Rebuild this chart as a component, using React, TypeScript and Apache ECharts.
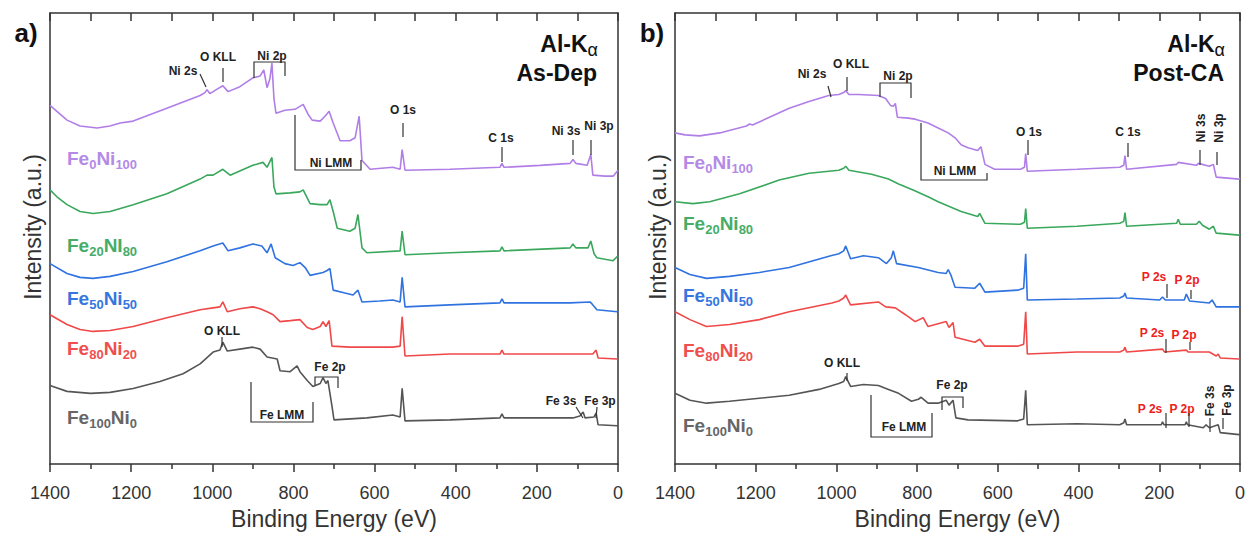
import React, { useEffect, useRef } from "react";
import * as echarts from "echarts";

type Pt = [number, number];

// Binding energy axis
const energyMin = 0;
const energyMax = 1400;
const intensityMax = 459;

// ---------- Panel a) As-Dep ----------
const asDepFe0Ni100: Pt[] = [[1400,365],[1383,359],[1358,350],[1326,344],[1284,342],[1252,344],[1227,347],[1195,349],[1112,362],[1030,375],[1018,378],[1013,381],[1006,377],[986,382],[974,385],[961,379],[932,384],[900,393],[882,395],[873,401],[865,383],[858,392],[853,408],[848,372],[843,357],[821,360],[796,361],[776,366],[764,356],[754,350],[734,349],[720,355],[712,359],[702,347],[685,329],[661,329],[648,332],[638,354],[631,309],[611,300],[555,302],[537,300],[532,320],[525,299],[414,300],[291,302],[286,306],[281,302],[192,304],[118,306],[111,310],[104,306],[76,304],[67,315],[62,294],[32,293],[12,293],[0,299]];
const asDepFe20Ni80: Pt[] = [[1400,279],[1383,272],[1358,264],[1326,257],[1294,255],[1252,257],[1195,264],[1112,275],[1030,290],[1013,294],[998,294],[974,300],[956,294],[900,304],[875,307],[865,302],[853,312],[848,282],[843,275],[808,276],[784,277],[776,279],[759,265],[734,264],[717,264],[710,269],[702,257],[692,240],[661,237],[648,240],[641,254],[631,220],[619,215],[537,217],[532,237],[525,213],[414,215],[291,217],[286,221],[281,217],[118,220],[111,224],[104,220],[74,220],[67,227],[59,214],[52,210],[12,207],[0,212]];
const asDepFe50Ni50: Pt[] = [[1400,204],[1358,194],[1326,190],[1294,189],[1252,191],[1195,196],[1112,206],[1030,217],[998,222],[974,225],[961,217],[932,220],[900,224],[878,222],[865,215],[855,224],[845,210],[821,204],[801,202],[784,205],[771,200],[759,192],[727,195],[717,197],[710,199],[702,177],[673,174],[653,172],[641,177],[631,165],[587,166],[555,167],[537,165],[532,190],[525,160],[414,162],[291,164],[286,168],[281,164],[118,164],[69,165],[64,163],[52,157],[2,155],[0,156]];
const asDepFe80Ni20: Pt[] = [[1400,152],[1358,142],[1326,137],[1294,135],[1252,136],[1195,140],[1112,149],[1030,157],[998,159],[981,160],[974,165],[963,155],[932,158],[900,160],[882,158],[865,155],[850,152],[833,145],[808,146],[784,147],[766,139],[752,137],[734,140],[727,145],[720,140],[712,146],[705,120],[661,119],[555,119],[537,120],[532,150],[525,110],[414,112],[291,112],[286,116],[281,112],[62,112],[54,116],[49,108],[2,107],[0,107]];
const asDepFe100Ni0: Pt[] = [[1400,80],[1358,74],[1300,72],[1252,73],[1195,77],[1129,84],[1072,92],[1030,102],[998,114],[981,116],[974,124],[963,115],[932,117],[900,119],[882,117],[865,109],[840,107],[833,95],[808,94],[791,100],[784,94],[766,85],[752,79],[734,82],[727,88],[720,82],[715,85],[705,59],[700,45],[619,47],[555,50],[537,48],[532,77],[525,44],[414,45],[291,47],[286,51],[281,47],[111,47],[94,49],[86,53],[81,47],[59,48],[54,52],[49,40],[2,39],[0,39]];

// ---------- Panel b) Post-CA ----------
const postFe0Ni100: Pt[] = [[1400,337],[1375,335],[1339,334],[1289,337],[1223,344],[1215,346],[1208,345],[1117,362],[1068,369],[1019,375],[994,376],[982,378],[977,380],[969,376],[945,376],[896,375],[878,372],[866,365],[859,364],[854,367],[849,353],[822,352],[805,351],[773,347],[748,342],[723,337],[706,332],[691,325],[674,322],[650,319],[642,323],[632,305],[608,300],[544,300],[534,302],[531,316],[527,298],[404,300],[298,302],[288,304],[285,314],[281,300],[157,305],[153,307],[108,304],[103,306],[76,303],[66,305],[59,292],[2,290],[0,291]];
const postFe20Ni80: Pt[] = [[1400,267],[1356,265],[1314,267],[1240,275],[1142,289],[1068,296],[994,299],[982,301],[977,303],[969,299],[913,295],[871,290],[846,285],[810,279],[773,272],[748,267],[691,257],[650,252],[645,255],[632,245],[544,244],[534,246],[531,260],[527,240],[404,242],[298,245],[288,247],[285,256],[281,242],[157,245],[153,249],[148,244],[108,244],[101,247],[93,243],[76,239],[66,242],[59,235],[2,233],[0,234]];
const postFe50Ni50: Pt[] = [[1400,200],[1363,193],[1322,189],[1265,191],[1191,195],[1117,200],[1014,212],[994,214],[982,217],[977,222],[965,209],[933,212],[896,210],[876,204],[864,210],[859,217],[851,204],[797,200],[748,195],[728,194],[723,198],[716,192],[706,180],[657,179],[645,184],[632,175],[551,177],[536,179],[531,214],[527,167],[404,168],[298,169],[288,171],[285,174],[281,169],[199,167],[192,170],[185,167],[138,167],[133,173],[125,166],[76,164],[69,167],[59,160],[2,160],[0,161]];
const postFe80Ni20: Pt[] = [[1400,155],[1363,147],[1322,140],[1265,142],[1191,147],[1117,155],[1011,164],[994,166],[982,169],[977,172],[965,162],[896,165],[878,160],[854,159],[829,152],[805,145],[785,149],[773,140],[728,145],[721,139],[711,144],[706,129],[657,124],[645,127],[632,120],[551,120],[536,122],[531,155],[527,112],[404,114],[298,114],[288,116],[285,119],[281,114],[192,117],[187,114],[133,116],[128,114],[76,114],[59,110],[54,112],[49,108],[2,107],[0,107]];
const postFe100Ni0: Pt[] = [[1400,72],[1363,65],[1322,62],[1265,64],[1191,67],[1117,70],[1043,76],[994,82],[982,84],[977,89],[965,79],[933,81],[896,80],[871,76],[846,72],[814,64],[797,66],[790,68],[773,62],[748,62],[728,65],[721,60],[711,65],[704,47],[674,45],[551,44],[536,46],[531,75],[527,40],[404,41],[298,40],[288,42],[285,46],[281,40],[195,40],[192,43],[188,40],[136,40],[133,43],[130,40],[91,37],[84,40],[76,37],[54,40],[49,32],[2,30],[0,31]];

const seriesColors = ["#b07ee6", "#3aa85c", "#2f72e0", "#f04848", "#555555"];
const labelColors = ["#b48ae6", "#45ad68", "#3576e0", "#ef4f4f", "#666666"];

const panelA = [asDepFe0Ni100, asDepFe20Ni80, asDepFe50Ni50, asDepFe80Ni20, asDepFe100Ni0];
const panelB = [postFe0Ni100, postFe20Ni80, postFe50Ni50, postFe80Ni20, postFe100Ni0];

// sample labels: [Fe subscript, Ni symbol, Ni subscript]
const labelsA: [string, string, string][] = [["0", "Ni", "100"], ["20", "NI", "80"], ["50", "Ni", "50"], ["80", "Ni", "20"], ["100", "Ni", "0"]];
const labelsB: [string, string, string][] = [["0", "Ni", "100"], ["20", "Ni", "80"], ["50", "Ni", "50"], ["80", "Ni", "20"], ["100", "Ni", "0"]];

const FONT = "'Liberation Sans', Arial, Helvetica, sans-serif";

function buildGraphics() {
  const g: any[] = [];
  const ink = "#333";
  const txt = (x: number, y: number, text: string, opt: any = {}) =>
    g.push({
      type: "text",
      x,
      y,
      rotation: opt.rot || 0,
      z: 100,
      style: {
        text,
        fill: opt.color || "#222",
        fontFamily: FONT,
        fontSize: opt.size || 12,
        fontWeight: opt.weight || "bold",
        align: opt.align || "center",
        verticalAlign: "middle",
        rich: opt.rich,
      },
    });
  const ln = (x1: number, y1: number, x2: number, y2: number) =>
    g.push({ type: "line", z: 100, shape: { x1, y1, x2, y2 }, style: { stroke: ink, lineWidth: 1.2 } });
  const pl = (pts: number[][]) =>
    g.push({ type: "polyline", z: 100, shape: { points: pts }, style: { stroke: ink, lineWidth: 1.2, fill: null } });

  // panel tags
  txt(26, 33, "a)", { size: 26, color: "#111" });
  txt(652, 33, "b)", { size: 26, color: "#111" });

  const richK = {
    m: { fontFamily: FONT, fontSize: 23, fontWeight: "bold", fill: "#111", lineHeight: 24, padding: [0, 0, 4, 0], verticalAlign: "bottom" },
    s: { fontFamily: FONT, fontSize: 18, fontWeight: "normal", fill: "#111", lineHeight: 16, verticalAlign: "bottom" },
  };
  txt(598, 47, "{m|Al-K}{s|α}", { align: "right", rich: richK });
  txt(597, 73, "As-Dep", { size: 23, color: "#111", align: "right" });
  txt(1225, 47, "{m|Al-K}{s|α}", { align: "right", rich: richK });
  txt(1224, 73, "Post-CA", { size: 23, color: "#111", align: "right" });

  // y titles
  txt(33, 227, "Intensity (a.u.)", { size: 23, weight: "normal", color: "#333", rot: Math.PI / 2 });
  txt(658, 227, "Intensity (a.u.)", { size: 23, weight: "normal", color: "#333", rot: Math.PI / 2 });

  // sample labels
  const labY_A = [160, 247, 300, 350, 419];
  const labY_B = [164, 225, 297, 352, 427];
  const mkRich = (c: string) => ({
    a: { fontFamily: FONT, fontSize: 19, fontWeight: "bold", fill: c, lineHeight: 22, padding: [0, 0, 3, 0], verticalAlign: "bottom" },
    s: { fontFamily: FONT, fontSize: 13, fontWeight: "bold", fill: c, lineHeight: 14, verticalAlign: "bottom" },
  });
  labelsA.forEach((l, i) =>
    txt(67, labY_A[i], `{a|Fe}{s|${l[0]}}{a|${l[1]}}{s|${l[2]}}`, { align: "left", rich: mkRich(labelColors[i]) })
  );
  labelsB.forEach((l, i) =>
    txt(683, labY_B[i], `{a|Fe}{s|${l[0]}}{a|${l[1]}}{s|${l[2]}}`, { align: "left", rich: mkRich(labelColors[i]) })
  );

  // ---- panel a annotations ----
  txt(183, 71, "Ni 2s"); ln(200, 74, 206, 87);
  txt(218, 57, "O KLL"); ln(223, 68, 223, 82);
  txt(272, 56, "Ni 2p"); pl([[254, 78], [254, 62], [285, 62], [285, 76]]);
  pl([[295, 115], [295, 170], [361, 170], [361, 160]]); txt(331, 163, "Ni LMM");
  txt(403, 110, "O 1s"); ln(403, 123, 403, 137);
  txt(501, 138, "C 1s"); ln(502, 147, 502, 162);
  txt(566, 131, "Ni 3s"); ln(573, 140, 573, 155);
  txt(599, 126, "Ni 3p"); ln(591, 140, 591, 155);
  txt(222, 331, "O KLL"); ln(222, 337, 222, 347);
  pl([[251, 382], [251, 422], [313, 422], [313, 402]]); txt(282, 415, "Fe LMM");
  txt(330, 367, "Fe 2p"); pl([[315, 385], [315, 377], [338, 377], [338, 388]]);
  txt(561, 401, "Fe 3s"); ln(576, 407, 583, 418);
  txt(600, 401, "Fe 3p"); ln(597, 407, 596, 418);

  // ---- panel b annotations ----
  txt(812, 74, "Ni 2s"); ln(828, 86, 831, 97);
  txt(851, 64, "O KLL"); ln(847, 77, 847, 91);
  txt(898, 76, "Ni 2p"); pl([[880, 97], [880, 83], [911, 83], [911, 98]]);
  pl([[921, 123], [921, 180], [987, 180], [987, 173]]); txt(955, 171, "Ni LMM");
  txt(1029, 132, "O 1s"); ln(1028, 140, 1028, 155);
  txt(1128, 132, "C 1s"); ln(1128, 143, 1128, 157);
  txt(1201, 128, "Ni 3s", { rot: Math.PI / 2 }); ln(1200, 150, 1200, 165);
  txt(1219, 128, "Ni 3p", { rot: Math.PI / 2 }); ln(1217, 152, 1217, 165);
  txt(842, 363, "O KLL"); ln(847, 373, 847, 381);
  pl([[871, 395], [871, 437], [932, 437], [932, 413]]); txt(904, 427, "Fe LMM");
  txt(952, 385, "Fe 2p"); pl([[942, 410], [942, 397], [963, 397], [963, 408]]);
  const red = "#ee2020";
  txt(1154, 277, "P 2s", { color: red }); ln(1167, 284, 1167, 298);
  txt(1187, 280, "P 2p", { color: red }); ln(1191, 290, 1191, 299);
  txt(1152, 333, "P 2s", { color: red }); ln(1166, 339, 1166, 353);
  txt(1184, 335, "P 2p", { color: red }); ln(1190, 342, 1190, 350);
  txt(1150, 409, "P 2s", { color: red }); ln(1166, 413, 1166, 428);
  txt(1182, 409, "P 2p", { color: red }); ln(1189, 413, 1189, 427);
  txt(1210, 401, "Fe 3s", { rot: Math.PI / 2 }); ln(1210, 418, 1210, 432);
  txt(1227, 400, "Fe 3p", { rot: Math.PI / 2 }); ln(1223, 418, 1223, 429);
  return g;
}

const axisInk = { color: "#333", width: 1.5 };

function bottomAxis(gridIndex: number) {
  return {
    type: "value",
    gridIndex,
    position: "bottom",
    inverse: true,
    min: energyMin,
    max: energyMax,
    interval: 200,
    name: "Binding Energy (eV)",
    nameLocation: "middle",
    nameGap: 40,
    nameTextStyle: { fontSize: 23, color: "#333", fontFamily: FONT },
    axisLine: { show: true, onZero: false, lineStyle: axisInk },
    axisTick: { show: true, inside: false, length: 8, lineStyle: axisInk },
    minorTick: { show: true, splitNumber: 2, length: 5, lineStyle: axisInk },
    axisLabel: { show: true, fontSize: 18, color: "#333", margin: 20, fontFamily: FONT, formatter: (v: number) => String(v) },
    splitLine: { show: false },
  };
}
function topAxis(gridIndex: number) {
  return {
    type: "value",
    gridIndex,
    position: "top",
    inverse: true,
    min: energyMin,
    max: energyMax,
    interval: 100,
    axisLine: { show: true, onZero: false, lineStyle: axisInk },
    axisTick: { show: true, inside: true, length: 8, lineStyle: axisInk },
    axisLabel: { show: false },
    splitLine: { show: false },
  };
}
function yAx(gridIndex: number, position: string) {
  return {
    type: "value",
    gridIndex,
    position,
    min: 0,
    max: intensityMax,
    axisLine: { show: true, onZero: false, lineStyle: axisInk },
    axisTick: { show: false },
    axisLabel: { show: false },
    splitLine: { show: false },
  };
}

export default function App() {
  const ref = useRef<HTMLDivElement>(null);
  useEffect(() => {
    if (!ref.current) return;
    const chart = echarts.init(ref.current, undefined, { renderer: "svg" });
    const series: any[] = [];
    panelA.forEach((d, i) =>
      series.push({
        type: "line",
        xAxisIndex: 0,
        yAxisIndex: 0,
        data: d,
        showSymbol: false,
        lineStyle: { color: seriesColors[i], width: 1.6 },
        itemStyle: { color: seriesColors[i] },
        silent: true,
      })
    );
    panelB.forEach((d, i) =>
      series.push({
        type: "line",
        xAxisIndex: 2,
        yAxisIndex: 2,
        data: d,
        showSymbol: false,
        lineStyle: { color: seriesColors[i], width: 1.6 },
        itemStyle: { color: seriesColors[i] },
        silent: true,
      })
    );
    chart.setOption({
      animation: false,
      textStyle: { fontFamily: FONT },
      grid: [
        { left: 50, top: 13, width: 568, height: 459 },
        { left: 675, top: 13, width: 569, height: 459 },
      ],
      xAxis: [bottomAxis(0), topAxis(0), bottomAxis(1), topAxis(1)],
      yAxis: [yAx(0, "left"), yAx(0, "right"), yAx(1, "left"), yAx(1, "right")],
      series,
      graphic: buildGraphics(),
    });
    return () => chart.dispose();
  }, []);
  return (
    <div
      ref={ref}
      style={{ position: "fixed", left: 0, top: 0, width: 1248, height: 535, background: "#fff" }}
    />
  );
}
